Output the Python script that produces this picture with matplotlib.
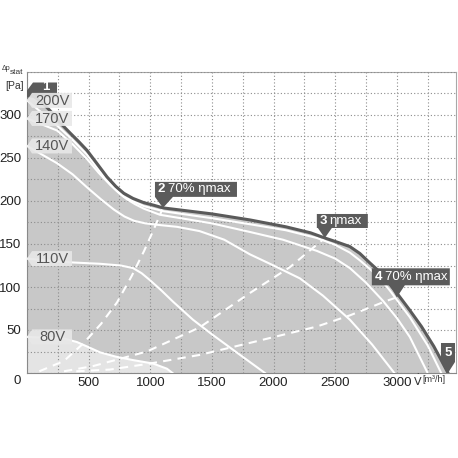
# Fan characteristic chart: static pressure vs. air flow
import numpy as np
import matplotlib.pyplot as plt
import matplotlib.ticker as mticker
from matplotlib.patches import Polygon

plt.rcParams['font.family'] = ['Liberation Sans', 'DejaVu Sans']

# max curve (dark line)
max_x = [0, 60, 120, 200, 268, 350, 420, 486, 560, 649, 720, 785, 860, 949, 1030, 1103, 1500, 1808,
         2100, 2300, 2416, 2520, 2619, 2700, 2781, 2850, 2900, 2950, 3000, 3100, 3200, 3300, 3360, 3415]
max_y = [325, 321, 315, 303, 291, 279, 269, 259, 245, 228, 217, 209, 203, 198, 195, 192, 185, 178,
         170, 163, 157, 152, 147, 139, 128, 119, 111, 102, 93, 74, 54, 31, 15, 0]

# voltage curves (white lines)
v200_x = [0, 250, 370, 486, 570, 649, 720, 785, 870, 949, 1110, 1500, 1808, 2100, 2351, 2500, 2619, 2700,
          2781, 2870, 2943, 3105, 3250, 3360]
v200_y = [317, 287, 271, 254, 238, 224, 213, 205, 199, 194, 188, 180, 173, 166, 157, 149, 140, 131,
          121, 109, 96, 65, 32, 0]
v170_x = [0, 243, 370, 486, 580, 673, 740, 811, 880, 949, 1078, 1500, 1808, 2076, 2351, 2500, 2619,
          2750, 2887, 3000, 3105, 3250]
v170_y = [296, 282, 266, 249, 233, 219, 210, 202, 196, 191, 184, 174, 164, 155, 142, 133, 122,
          105, 84, 64, 42, 0]
v140_x = [0, 243, 370, 486, 600, 705, 790, 868, 960, 1078, 1216, 1400, 1600, 1808, 2000, 2214, 2400,
          2619, 2800, 2980]
v140_y = [264, 244, 231, 216, 202, 190, 182, 177, 174, 172, 170, 165, 155, 138, 125, 110, 90,
          62, 33, 0]
v110_x = [0, 300, 592, 760, 860, 930, 997, 1090, 1184, 1346, 1500, 1700, 1930]
v110_y = [133, 129, 127, 125, 122, 116, 108, 96, 83, 62, 45, 24, 0]
v80_x = [0, 300, 405, 500, 592, 720, 860, 1022, 1135, 1180]
v80_y = [42, 40, 36, 30, 24, 19, 15, 11, 5, 0]

volt_curves = [(v200_x, v200_y, '200V'), (v170_x, v170_y, '170V'), (v140_x, v140_y, '140V'),
               (v110_x, v110_y, '110V'), (v80_x, v80_y, '80V')]

# efficiency lines (white dashed)
eff2_x = [100, 300, 454, 600, 730, 850, 950, 1022, 1103]
eff2_y = [2, 14, 34, 57, 82, 113, 142, 165, 192]
eff3_x = [300, 535, 973, 1400, 1808, 2132, 2416]
eff3_y = [2, 8, 25, 53, 93, 123, 157]
eff4_x = [400, 673, 997, 1400, 1808, 2351, 2619, 2919, 3000]
eff4_y = [2, 4, 11, 21, 35, 54, 67, 84, 88]

# operating points
pt_x = [0, 1103, 2416, 3000, 3415]
pt_y = [325, 192, 157, 88, 0]
pt_num = ['1', '2', '3', '4', '5']
pt_text = ['', '70% ηmax', 'ηmax', '70% ηmax', '']

W = H = 458
fig = plt.figure(figsize=(4.58, 4.58), dpi=100)
ax = fig.add_axes([27 / W, 1 - 373 / H, 429 / W, 301 / H])
ax.set_xlim(0, 3480)
ax.set_ylim(0, 350)

# areas
ax.fill_between(max_x, max_y, 0, color='#c8c8c8', lw=0, zorder=1)
ax.fill_between(v80_x, v80_y, 0, color='#e4e4e4', lw=0, zorder=1.1)

# curves
for cx, cy, name in volt_curves:
    ax.plot(cx, cy, color='white', lw=1.5, zorder=3, solid_joinstyle='round')
for ex, ey in [(eff2_x, eff2_y), (eff3_x, eff3_y), (eff4_x, eff4_y)]:
    ax.plot(ex, ey, color='white', lw=1.5, dashes=(4, 3), zorder=3)
ax.plot(max_x, max_y, color='#5a5a5a', lw=2.2, zorder=4, solid_joinstyle='round')

# grid + ticks
ax.xaxis.set_major_locator(mticker.MultipleLocator(250))
ax.yaxis.set_major_locator(mticker.MultipleLocator(25))
ax.xaxis.set_major_formatter(mticker.FuncFormatter(
    lambda v, p: '%d' % v if v % 500 == 0 and 0 < v < 3400 else ''))
ax.yaxis.set_major_formatter(mticker.FuncFormatter(
    lambda v, p: '%d' % v if v % 50 == 0 and 0 < v < 350 else ''))
ax.tick_params(length=0, labelsize=9.5, colors='#222222')
ax.tick_params(axis='x', pad=3)
ax.tick_params(axis='y', pad=4)
ax.set_axisbelow(False)
ax.grid(True, color='#8c8c8c', linestyle=(0, (1, 2)), linewidth=0.8)
for s in ['left', 'bottom']:
    ax.spines[s].set_color('#888888')
for s in ['top', 'right']:
    ax.spines[s].set_color('#a8a8a8')

fig.text(17 / W, 1 - 381 / H, '0', ha='center', va='center', fontsize=9.5, color='#222222')

# axis titles
fig.text(2 / W, 1 - 69 / H, 'Δp', fontsize=5, color='#333333', va='center')
fig.text(10 / W, 1 - 73 / H, 'stat', fontsize=6, color='#333333', va='center')
fig.text(5 / W, 1 - 86 / H, '[Pa]', fontsize=7.5, color='#333333', va='center')
fig.text(413 / W, 1 - 380 / H, r'$\dot{\mathrm{V}}$', fontsize=8, color='#333333', va='center')
fig.text(422 / W, 1 - 380 / H, '[m³/h]', fontsize=6.5, color='#333333', va='center')


def disp(xd, yd):
    return ax.transData.transform((xd, yd))


# point 1 marker (under the voltage labels)
tx, ty = disp(pt_x[0], pt_y[0])
shape1 = [(0, 3), (6, 11), (30, 11), (30, -4), (0, -4)]
fig.add_artist(Polygon([((tx + u) / W, (ty + v) / H) for u, v in shape1], closed=True,
                       transform=fig.transFigure, fc='#5b5b5b', ec='none', zorder=10))
fig.text((tx + 19) / W, (ty + 6) / H, pt_num[0], color='white', fontsize=9.5, weight='bold',
         ha='center', va='center', zorder=11)

# voltage labels
for cx, cy, name in volt_curves:
    tx, ty = disp(0, cy[0])
    shape = [(0, 0), (5, 7.5), (45, 7.5), (45, -7.5), (5, -7.5)]
    fig.add_artist(Polygon([((tx + u) / W, (ty + v) / H) for u, v in shape], closed=True,
                           transform=fig.transFigure, fc='#e8e8e8', ec='none', alpha=0.9, zorder=12))
    fig.text((tx + 25) / W, (ty - 0.5) / H, name, color='#555555', fontsize=10.5,
             ha='center', va='center', zorder=13)

# operating point labels 2..5 : box geometry (left, right, bottom, top, pointer base)
boxes = {1: (-8, 74, 11, 26, -8, 10),
         2: (-8, 43, 10, 24, -7, 7),
         3: (-25, 53, 12, 29, -7, 8),
         4: (-7, 7, 11, 30, -7, 7)}
for i in range(1, 5):
    L, R, B, T, a, b = boxes[i]
    tx, ty = disp(pt_x[i], pt_y[i])
    shape = [(0, 0), (a, B), (L, B), (L, T), (R, T), (R, B), (b, B)]
    fig.add_artist(Polygon([((tx + u) / W, (ty + v) / H) for u, v in shape], closed=True,
                           transform=fig.transFigure, fc='#5b5b5b', ec='none', zorder=10))
    ym = (ty + (B + T) / 2) / H
    if pt_text[i]:
        fig.text((tx + L + 3) / W, ym, pt_num[i], color='white', fontsize=9.5, weight='bold',
                 ha='left', va='center', zorder=11)
        fig.text((tx + L + 13) / W, ym, pt_text[i], color='white', fontsize=9.5,
                 ha='left', va='center', zorder=11)
    else:
        fig.text((tx + (L + R) / 2) / W, ym, pt_num[i], color='white', fontsize=9.5, weight='bold',
                 ha='center', va='center', zorder=11)

fig.savefig('out.png', dpi=100)
